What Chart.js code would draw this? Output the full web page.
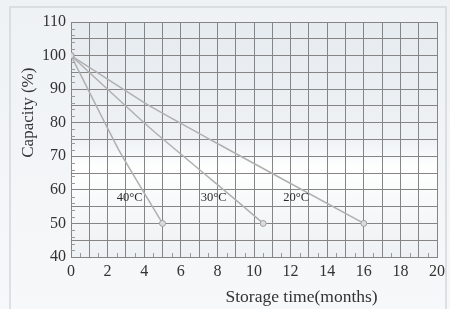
<!DOCTYPE html>
<html>
<head>
<meta charset="utf-8">
<script src="https://cdn.jsdelivr.net/npm/chart.js@4"></script>
<style>
  html, body { margin: 0; padding: 0; background: #f3f5f7; }
  #wrap { position: relative; width: 450px; height: 309px; }
</style>
</head>
<body>
<div id="wrap"><canvas id="myChart" width="450" height="309"></canvas></div>
<script>
// values
const xTicks = [0, 2, 4, 6, 8, 10, 12, 14, 16, 18, 20];
const yTicks = [40, 50, 60, 70, 80, 90, 100, 110];
const series40 = [{ x: 0, y: 100 }, { x: 2.6, y: 72 }, { x: 5, y: 50 }];
const series30 = [{ x: 0, y: 100 }, { x: 4.3, y: 78.5 }, { x: 9, y: 57 }, { x: 10.5, y: 50 }];
const series20 = [{ x: 0, y: 100 }, { x: 4.3, y: 85 }, { x: 7.6, y: 75 }, { x: 16, y: 50 }];
const seriesNames = ["40°C", "30°C", "20°C"];
const labelPos = [{ x: 3.2, y: 57.6 }, { x: 7.8, y: 57.6 }, { x: 12.3, y: 57.6 }];

const serif = "'Liberation Serif', 'DejaVu Serif', serif";
const lineColor = "#b0b0b0";

function makeSet(data) {
  return {
    data: data,
    borderColor: lineColor,
    borderWidth: 1.5,
    tension: 0.15,
    pointRadius: data.map((p, i) => (i === 0 || i === data.length - 1 ? 3 : 0)),
    pointBackgroundColor: "#dcdcdc",
    pointBorderColor: "#a0a0a0",
    pointBorderWidth: 1,
  };
}

const frame = {
  id: "frame",
  beforeDraw(chart) {
    const { ctx, chartArea: a } = chart;
    ctx.save();
    // page background and border
    const bg = ctx.createLinearGradient(0, 0, 0, chart.height);
    bg.addColorStop(0, "#eef2f5");
    bg.addColorStop(1, "#f7f8f9");
    ctx.fillStyle = bg;
    ctx.fillRect(0, 0, chart.width, chart.height);
    ctx.strokeStyle = "#d3d7db";
    ctx.lineWidth = 1.5;
    ctx.strokeRect(10, 7, chart.width - 14, chart.height - 4);
    // plot area shading
    const g = ctx.createLinearGradient(0, a.top, 0, a.bottom);
    g.addColorStop(0, "#e6ebf0");
    g.addColorStop(0.5, "#eef2f5");
    g.addColorStop(0.62, "#ffffff");
    g.addColorStop(0.8, "#f6f8f9");
    g.addColorStop(1, "#eef1f3");
    ctx.fillStyle = g;
    ctx.fillRect(a.left, a.top, a.right - a.left, a.bottom - a.top);
    ctx.restore();
  },
  afterDraw(chart) {
    const { ctx, chartArea: a, scales } = chart;
    ctx.save();
    ctx.fillStyle = "#2a2a2a";
    ctx.textAlign = "center";
    ctx.textBaseline = "middle";
    ctx.font = "12.5px " + serif;
    seriesNames.forEach((name, i) => {
      ctx.fillText(name, scales.x.getPixelForValue(labelPos[i].x), scales.y.getPixelForValue(labelPos[i].y));
    });
    // axis titles
    ctx.fillStyle = "#333";
    ctx.font = "17.5px " + serif;
    ctx.fillText("Storage time(months)", scales.x.getPixelForValue(12.6), 297);
    ctx.translate(29, scales.y.getPixelForValue(83));
    ctx.rotate(-Math.PI / 2);
    ctx.font = "17px " + serif;
    ctx.fillText("Capacity (%)", 0, 0);
    ctx.restore();
    // minor ticks along axes
    ctx.save();
    ctx.strokeStyle = "#999";
    ctx.lineWidth = 1;
    ctx.beginPath();
    for (let v = 0.5; v < 20; v += 1) {
      const px = Math.round(scales.x.getPixelForValue(v)) + 0.5;
      ctx.moveTo(px, a.bottom);
      ctx.lineTo(px, a.bottom - 4);
    }
    for (let v = 42; v < 110; v += 2) {
      if (v % 5 === 0) continue;
      const py = Math.round(scales.y.getPixelForValue(v)) + 0.5;
      ctx.moveTo(a.left, py);
      ctx.lineTo(a.left + 4, py);
    }
    ctx.stroke();
    ctx.restore();
  },
};

new Chart(document.getElementById("myChart"), {
  type: "line",
  data: { datasets: [makeSet(series40), makeSet(series30), makeSet(series20)] },
  options: {
    responsive: false,
    animation: false,
    layout: { padding: { left: 0, right: 13, top: 22, bottom: 0 } },
    plugins: { legend: { display: false }, tooltip: { enabled: false } },
    scales: {
      x: {
        type: "linear",
        min: 0,
        max: 20,
        afterFit(s) { s.height = 52; },
        grid: { color: "#858585", lineWidth: 1, drawTicks: false },
        border: { color: "#858585" },
        ticks: {
          stepSize: 1,
          autoSkip: false,
          maxRotation: 0,
          padding: 5,
          color: "#333",
          font: { family: serif, size: 16 },
          callback: (v) => (xTicks.includes(v) ? String(v) : ""),
        },
      },
      y: {
        min: 40,
        max: 110,
        afterFit(s) { s.width = 71; },
        grid: { color: "#858585", lineWidth: 1, drawTicks: false },
        border: { color: "#858585" },
        ticks: {
          stepSize: 5,
          autoSkip: false,
          padding: 5,
          color: "#333",
          font: { family: serif, size: 16 },
          callback: (v) => (yTicks.includes(v) ? String(v) : ""),
        },
      },
    },
  },
  plugins: [frame],
});
</script>
</body>
</html>
